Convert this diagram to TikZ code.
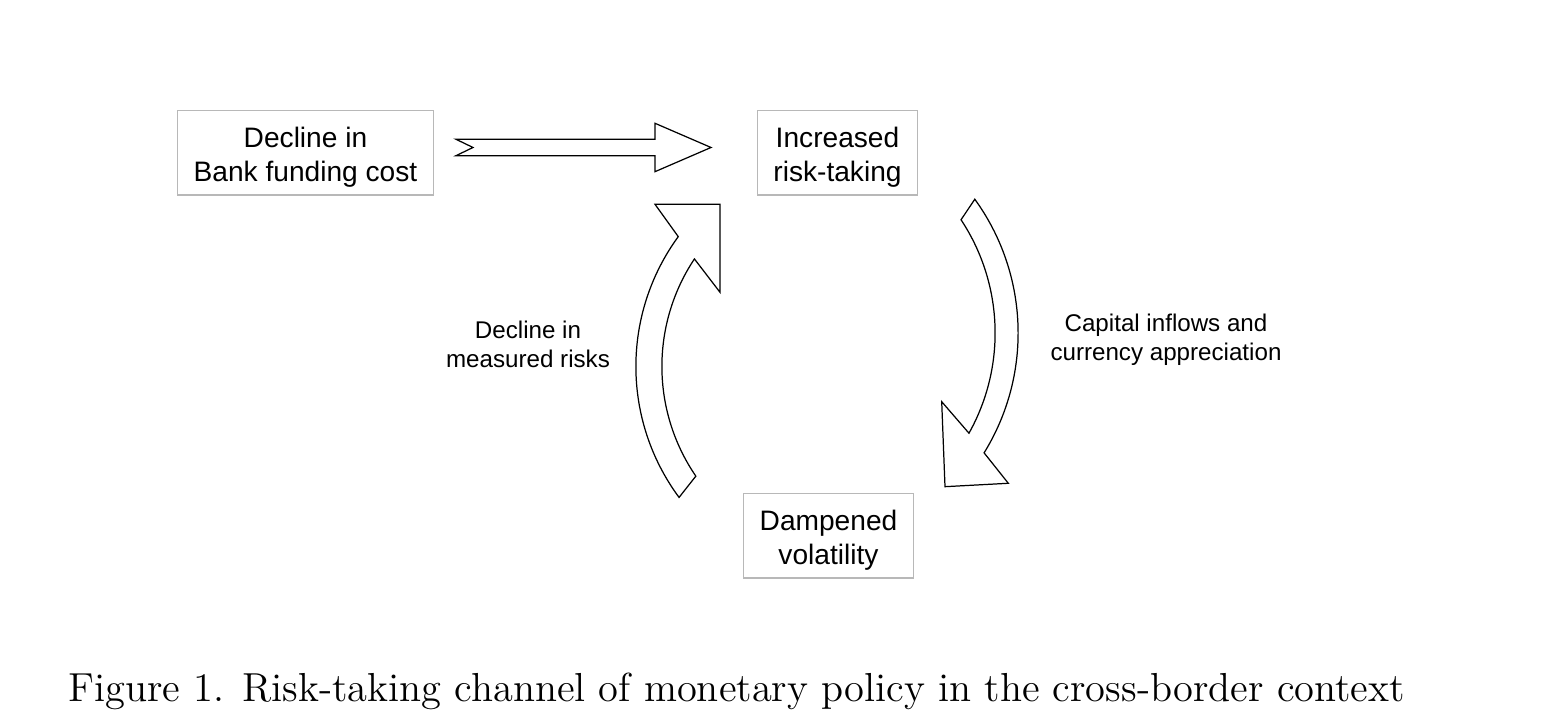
\documentclass[tikz,border=0pt]{standalone}
\usepackage{fontspec}
\newfontfamily\arialfont{Liberation Sans}
\usetikzlibrary{calc}
\newcommand\topstrut{\rule{0pt}{8.1pt}}
\begin{document}
\begin{tikzpicture}[x=0.01cm, y=0.01cm, line join=miter,
	box/.style={draw=black!28, line width=0.3pt, minimum height=0.84cm, inner sep=0pt, align=center, font=\arialfont\fontsize{8}{9.7}\selectfont},
	lbl/.style={align=center, inner sep=0pt, font=\arialfont\fontsize{6.87}{8.2}\selectfont},
	blockarrow/.style={draw=black, line width=0.35pt, fill=white}]
	\useasboundingbox (0,0) rectangle (1563,719);
	% boxes
	\node[box, minimum width=2.55cm] (decline) at (305.5,566) {\topstrut Decline in\\Bank funding cost};
	\node[box, minimum width=1.59cm] (risk) at (837.5,566) {\topstrut Increased\\risk-taking};
	\node[box, minimum width=1.69cm] (damp) at (828.5,183) {\topstrut Dampened\\volatility};
	% labels
	\node[lbl] (lblrisk) at (528,375) {Decline in\\measured risks};
	\node[lbl] (lblcap) at (1166,379.5) {Capital inflows and\\currency appreciation};
	% straight block arrow
	\draw[blockarrow] (456,579.7)--(655,579.7)--(655,595.7)--(711,571.5)--(655,547.3)--(655,563.3)--(456,563.3)--(473,571.5)--cycle;
	% curved block arrows
	\coordinate (lc) at (856,352.5);
	\coordinate (rc) at (790,386);
	\draw[blockarrow] ($(lc)+(216.5:2.2cm)$) arc[start angle=216.5, end angle=143.85, radius=2.2cm]
		-- (655,514.7) -- (720,514.7) -- (720,426.7)
		-- ($(lc)+(146.35:1.94cm)$) arc[start angle=146.35, end angle=214.4, radius=1.94cm] -- cycle;
	\draw[blockarrow] ($(rc)+(35.9:2.28cm)$) arc[start angle=35.9, end angle=-31.7, radius=2.28cm]
		-- (1008.3,235.7) -- (945,232.3) -- (941.7,317.3)
		-- ($(rc)+(-29.25:2.05cm)$) arc[start angle=-29.25, end angle=33.5, radius=2.05cm] -- cycle;
	% caption
	\node[anchor=base west, inner sep=0pt, font=\fontsize{11.52}{13}\selectfont] (caption) at (68,17) {Figure 1. Risk-taking channel of monetary policy in the cross-border context};
\end{tikzpicture}
\end{document}
